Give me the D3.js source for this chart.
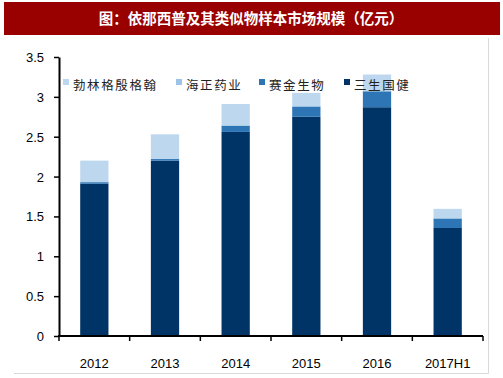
<!DOCTYPE html>
<html><head><meta charset="utf-8">
<script src="https://cdn.jsdelivr.net/npm/d3@7"></script>
<style>body{margin:0;background:#fff;} svg{display:block;}</style>
</head><body>
<svg id="c" width="503" height="378"></svg>
<script>
const categories = ["2012","2013","2014","2015","2016","2017H1"];
const seriesNames = ["勃林格殷格翰","海正药业","赛金生物","三生国健"];
const sansheng = [1.91, 2.20, 2.56, 2.75, 2.87, 1.355];
const saijin = [0.02, 0.02, 0.08, 0.13, 0.20, 0.12];
const haizheng = [0, 0, 0, 0, 0, 0];
const boehringer = [0.27, 0.31, 0.27, 0.17, 0.21, 0.12];
const yTicks = [0, 0.5, 1, 1.5, 2, 2.5, 3, 3.5];
const yTickLabels = ["0","0.5","1","1.5","2","2.5","3","3.5"];
const colors = {"勃林格殷格翰":"#BDD7EE","海正药业":"#9DC3E6","赛金生物":"#2E75B6","三生国健":"#003366"};

const rows = categories.map((c,i)=>({cat:c,"三生国健":sansheng[i],"赛金生物":saijin[i],"海正药业":haizheng[i],"勃林格殷格翰":boehringer[i]}));
const stackOrder = ["三生国健","赛金生物","海正药业","勃林格殷格翰"];
const stacked = d3.stack().keys(stackOrder)(rows);

const svg = d3.select("#c");
// title bar
svg.append("rect").attr("x",4).attr("y",2).attr("width",496).attr("height",33).attr("fill","#990000");
svg.append("text").attr("x",251).attr("y",24).attr("text-anchor","middle")
  .attr("fill","#fff").attr("font-family","Noto Sans CJK SC").attr("font-weight","bold")
  .attr("font-size",14.5).text("图：依那西普及其类似物样本市场规模（亿元）");
// frame lines
svg.append("line").attr("x1",14).attr("x2",488.5).attr("y1",373.5).attr("y2",373.5).attr("stroke","#d9d9d9");
svg.append("line").attr("x1",488.5).attr("x2",488.5).attr("y1",38).attr("y2",373.5).attr("stroke","#d9d9d9");

const x = d3.scaleBand().domain(categories).range([59,483]).paddingInner(0.6).paddingOuter(0.3);
const y = d3.scaleLinear().domain([0,3.5]).range([336,57]);

const g = svg.append("g");
g.selectAll("g.s").data(stacked).join("g").attr("fill",d=>colors[d.key])
 .selectAll("rect").data(d=>d).join("rect")
 .attr("x",d=>x(d.data.cat)).attr("width",x.bandwidth())
 .attr("y",d=>y(d[1])).attr("height",d=>Math.max(0,y(d[0])-y(d[1])));

// y axis
const yAxis = d3.axisLeft(y).tickValues(yTicks).tickFormat((d,i)=>yTickLabels[i]).tickSize(5).tickSizeOuter(0);
const ya = svg.append("g").attr("transform","translate(59,0)").call(yAxis);
ya.select(".domain").attr("stroke","#000").attr("stroke-width",2);
ya.selectAll(".tick line").attr("stroke","#000").attr("stroke-width",1.5);
ya.selectAll(".tick text").attr("font-family","Liberation Sans, Arial").attr("font-size",13).attr("fill","#000").attr("x",-15).attr("dy","0.35em");

// x axis
const xLin = d3.scaleLinear().domain([0,categories.length]).range([59,483]);
svg.append("line").attr("x1",58).attr("x2",483).attr("y1",336).attr("y2",336).attr("stroke","#000").attr("stroke-width",2);
svg.append("g").selectAll("line").data(d3.range(categories.length+1)).join("line")
  .attr("x1",d=>xLin(d)).attr("x2",d=>xLin(d)).attr("y1",336).attr("y2",341).attr("stroke","#000").attr("stroke-width",1.5);
svg.append("g").selectAll("text").data(categories).join("text")
  .attr("x",d=>x(d)+x.bandwidth()/2).attr("y",368).attr("text-anchor","middle")
  .attr("font-family","Liberation Sans, Arial").attr("font-size",13).attr("fill","#000").text(d=>d);

// legend
const legX = [63,176,259,344];
const leg = svg.append("g").selectAll("g").data(seriesNames).join("g")
  .attr("transform",(d,i)=>`translate(${legX[i]},0)`);
leg.append("rect").attr("x",0).attr("y",79).attr("width",6).attr("height",6).attr("fill",d=>colors[d]);
leg.append("text").attr("x",10).attr("y",90).attr("font-family","Noto Sans CJK SC").attr("font-size",12.5)
  .attr("letter-spacing",1.6).attr("fill","#222").text(d=>d);
</script>
</body></html>
